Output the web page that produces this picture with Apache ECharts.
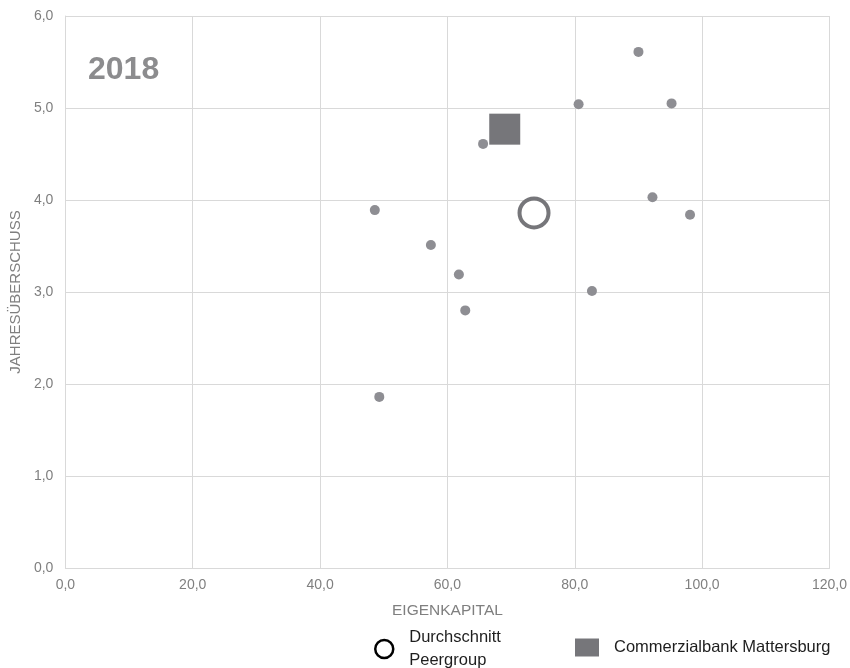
<!DOCTYPE html>
<html>
<head>
<meta charset="utf-8">
<script src="https://cdn.jsdelivr.net/npm/echarts@6/dist/echarts.min.js"></script>
<style>html,body{margin:0;padding:0;background:#fff}#c{width:850px;height:668px}</style>
</head>
<body>
<div id="c"></div>
<script>
// Peer banks: [Eigenkapital, Jahresüberschuss]
var peerX = [90.0, 80.6, 95.2, 92.2, 98.1, 48.6, 57.4, 61.8, 82.7, 62.8, 49.3, 65.6];
var peerY = [5.61, 5.04, 5.05, 4.03, 3.84, 3.89, 3.51, 3.19, 3.01, 2.80, 1.86, 4.61];
var avgX = [73.6];
var avgY = [3.86];
var bankX = [69.0];
var bankY = [4.77];
var xTicks = [0, 20, 40, 60, 80, 100, 120];
var yTicks = [0, 1, 2, 3, 4, 5, 6];
var yearLabel = '2018';
var xName = 'EIGENKAPITAL';
var yName = 'JAHRESÜBERSCHUSS';
var avgName = 'Durchschnitt Peergroup';
var bankName = 'Commerzialbank Mattersburg';

function pairs(xs, ys){ return xs.map(function(x,i){ return [x, ys[i]]; }); }
function fmt(v){ return v.toFixed(1).replace('.', ','); }

var chart = echarts.init(document.getElementById('c'), null, {renderer:'canvas'});
var font = 'Liberation Sans, Arial, sans-serif';
chart.setOption({
  animation: false,
  grid: {left: 64.5, right: 19.5, top: 16, bottom: 100, containLabel: false},
  xAxis: {
    type: 'value', min: xTicks[0], max: xTicks[xTicks.length-1], interval: 20,
    name: xName, nameLocation: 'middle', nameGap: 35,
    nameTextStyle: {color: '#7f7f7f', fontSize: 15.5, fontFamily: font},
    axisLine: {show: true, lineStyle: {color: '#d9d9d9'}},
    axisTick: {show: false},
    axisLabel: {color: '#7f7f7f', fontSize: 14, fontFamily: font, margin: 10, formatter: fmt},
    splitLine: {show: true, lineStyle: {color: '#d9d9d9', width: 1}}
  },
  yAxis: {
    type: 'value', min: yTicks[0], max: yTicks[yTicks.length-1], interval: 1,
    name: yName, nameLocation: 'middle', nameGap: 40, nameRotate: 90,
    nameTextStyle: {color: '#7f7f7f', fontSize: 15, fontFamily: font},
    axisLine: {show: true, lineStyle: {color: '#d9d9d9'}},
    axisTick: {show: false},
    axisLabel: {color: '#7f7f7f', fontSize: 14, fontFamily: font, margin: 12, formatter: fmt},
    splitLine: {show: true, lineStyle: {color: '#d9d9d9', width: 1}}
  },
  legend: [{
    left: 374, top: 626, padding: 0, itemWidth: 18, itemHeight: 18, selectedMode: false,
    data: [{name: avgName, icon: 'circle', itemStyle: {color: 'rgba(0,0,0,0)', borderColor: '#000', borderWidth: 2.5}}],
    formatter: function(){ return 'Durchschnitt\nPeergroup'; },
    textStyle: {color: '#1e1e1e', fontSize: 16.5, lineHeight: 23, fontFamily: font, padding: [0,0,0,11]}
  },{
    left: 575, top: 637.5, padding: 0, itemWidth: 24, itemHeight: 18, selectedMode: false,
    data: [{name: bankName, icon: 'rect', itemStyle: {color: '#76767a'}}],
    textStyle: {color: '#1e1e1e', fontSize: 16.5, lineHeight: 18, fontFamily: font, padding: [2,0,0,10]}
  }],
  graphic: [{
    type: 'text', left: 88, top: 54,
    style: {text: yearLabel, fill: '#8c8c8e', font: 'bold 32px ' + font}
  }],
  series: [{
    name: 'Peergroup', type: 'scatter', data: pairs(peerX, peerY), symbol: 'circle', symbolSize: 10,
    itemStyle: {color: '#8e8e93', opacity: 1}, z: 2
  },{
    name: avgName, type: 'scatter', data: pairs(avgX, avgY), symbol: 'circle', symbolSize: 29,
    itemStyle: {color: 'rgba(0,0,0,0)', borderColor: '#76767a', borderWidth: 4, opacity: 1}, z: 3
  },{
    name: bankName, type: 'scatter', data: pairs(bankX, bankY), symbol: 'rect', symbolSize: 31,
    itemStyle: {color: '#76767a', opacity: 1}, z: 3
  }]
});
</script>
</body>
</html>
